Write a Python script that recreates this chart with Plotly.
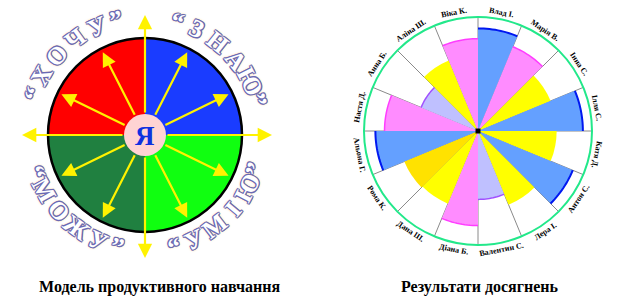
import numpy as np
import plotly.graph_objects as go

# ---------------- data ----------------
quadrant_words = ["ЗНАЮ", "УМІЮ", "МОЖУ", "ХОЧУ"]   # clockwise from 12 o'clock
quadrant_share = [1, 1, 1, 1]
center_word = "Я"

students = ["Влад І.", "Марія В.", "Інна С.", "Ілля С.", "Катя Д.", "Антон С.",
            "Лера І.", "Валентин С.", "Діана Б.", "Дана Ш.", "Рома К.", "Альона Г.",
            "Настя Д.", "Анна Б.", "Аліна Ш.", "Віка К."]
scores = [90, 80, 69, 92, 69, 90, 70, 60, 83, 69, 70, 90, 82, 54, 67, 81]
levels = ["В", "Д", "С", "В", "С", "В", "С", "П", "Д", "С", "С2", "В", "Д", "П", "С", "Д"]

caption_left = "Модель продуктивного навчання"
caption_right = "Результати досягнень"

# ---------------- styles ----------------
W, H = 633, 301
def px(x): return x / W
def py(y): return 1 - y / H

SERIF = "Liberation Serif, Times New Roman, DejaVu Serif, serif"
level_fill = {"В": "#64A0FF", "Д": "#FF8CFF", "С": "#FFFF00", "С2": "#FFE200", "П": "#BFC0FF"}
level_edge = {"В": "#0018F0", "Д": "#FF3CFF", "П": "#A050FF"}
quad_colors = ["#1A3CFF", "#10FF10", "#208040", "#FF0000"]

fig = go.Figure()

# ---- left diagram ----
CX, CY, R = 145, 135, 97
fig.add_trace(go.Pie(values=quadrant_share, labels=quadrant_words, sort=False,
                     direction="clockwise", rotation=0, textinfo="none",
                     hoverinfo="skip", showlegend=False,
                     marker=dict(colors=quad_colors, line=dict(width=0)),
                     domain=dict(x=[px(CX - R), px(CX + R)], y=[py(CY + R), py(CY - R)])))

shapes = [
    dict(type="circle", xref="paper", yref="paper", layer="above",
         x0=px(CX - R), x1=px(CX + R), y0=py(CY + R), y1=py(CY - R),
         line=dict(color="black", width=2.5)),
    dict(type="circle", xref="paper", yref="paper", layer="above",
         x0=px(CX - 21), x1=px(CX + 21), y0=py(CY + 21), y1=py(CY - 21),
         fillcolor="#FFD3D3", line=dict(width=0)),
]

annotations = []
yellow = "#FFF200"
def arrow(phi, L):
    a = np.radians(phi)
    hx, hy = CX + L * np.sin(a), CY - L * np.cos(a)
    annotations.append(dict(x=px(hx), y=py(hy), xref="paper", yref="paper",
                            ax=-L * np.sin(a), ay=L * np.cos(a), text="",
                            showarrow=True, arrowhead=2, arrowsize=1.3,
                            arrowwidth=2.2, arrowcolor=yellow, startstandoff=21))

for phi in [27, 64, 116, 153, 207, 244, 296, 333]:
    arrow(phi, 93)
for phi, L in [(0, 120), (90, 127), (180, 123), (270, 123)]:
    arrow(phi, L)

annotations.append(dict(x=px(CX), y=py(CY + 1), xref="paper", yref="paper", showarrow=False,
                        text="<b>" + center_word + "</b>", xanchor="center", yanchor="middle",
                        font=dict(family=SERIF, size=27, color="#1030E0")))

oc = "#6a6ab4"
art_font = dict(family=SERIF, size=25, color="white",
                shadow=(f"1px 1px 0 {oc}, -1px -1px 0 {oc}, 1px -1px 0 {oc}, -1px 1px 0 {oc}, "
                        f"0 1px 0 {oc}, 0 -1px 0 {oc}, 1px 0 0 {oc}, -1px 0 0 {oc}, "
                        "0 0 3px #F0A030, 0 0 2px #F0A030"))

def wordart(word, phi_s, phi_e, r, bottom):
    chars = list("“" + word + "”")
    w = [0.6 if c in "“”" else 1.0 for c in chars]
    cum = np.cumsum(w) - np.array(w) / 2
    t = (cum - cum[0]) / (cum[-1] - cum[0])
    for c, ti in zip(chars, t):
        phi = phi_s + (phi_e - phi_s) * ti
        a = np.radians(phi)
        x, y = CX + r * np.sin(a), CY - r * np.cos(a)
        ang = phi - 180 if bottom else phi
        annotations.append(dict(x=px(x), y=py(y), xref="paper", yref="paper",
                                showarrow=False, text="<b>" + c + "</b>",
                                textangle=ang, xanchor="center", yanchor="middle",
                                font=art_font))

wordart(quadrant_words[3], -70, -14, 119, False)
wordart(quadrant_words[0], 16, 73, 118, False)
wordart(quadrant_words[2], 251, 194, 115, True)
wordart(quadrant_words[1], 165, 107, 115, True)

# ---- right polar chart ----
PX, PY, PR = 478, 131, 114
n = len(students)
step = 360 / n
theta = [i * step + step / 2 for i in range(n)]

fig.add_trace(go.Barpolar(r=scores, theta=theta, width=[step] * n,
                          marker=dict(color=[level_fill[l] for l in levels], line=dict(width=0)),
                          hoverinfo="skip", showlegend=False))

for lv, col in level_edge.items():
    rr, tt = [], []
    for i, (s, l) in enumerate(zip(scores, levels)):
        if l == lv:
            th = np.linspace(i * step, (i + 1) * step, 15)
            rr += [s] * len(th) + [None]
            tt += list(th) + [None]
    fig.add_trace(go.Scatterpolar(r=rr, theta=tt, mode="lines",
                                  line=dict(color=col, width=2 if lv == "В" else 1.5),
                                  hoverinfo="skip", showlegend=False))

fig.add_trace(go.Scatterpolar(r=[0], theta=[0], mode="markers",
                              marker=dict(symbol="square", size=5, color="black"),
                              hoverinfo="skip", showlegend=False))

label_font = dict(family=SERIF, size=8, color="black")
for name, th in zip(students, theta):
    a = np.radians(th)
    x, y = PX + 121 * np.sin(a), PY - 121 * np.cos(a)
    if th <= 105:
        ang = th
    elif th < 270:
        ang = th - 180
    else:
        ang = th - 360
    annotations.append(dict(x=px(x), y=py(y), xref="paper", yref="paper", showarrow=False,
                            text="<b>" + name + "</b>", textangle=ang,
                            xanchor="center", yanchor="middle", font=label_font))

cap_font = dict(family=SERIF, size=16, color="black")
annotations.append(dict(x=px(160), y=py(287), xref="paper", yref="paper", showarrow=False,
                        text="<b>" + caption_left + "</b>", xanchor="center", yanchor="middle",
                        font=cap_font))
annotations.append(dict(x=px(480), y=py(287), xref="paper", yref="paper", showarrow=False,
                        text="<b>" + caption_right + "</b>", xanchor="center", yanchor="middle",
                        font=cap_font))

fig.update_layout(
    width=W, height=H, margin=dict(l=0, r=0, t=0, b=0),
    paper_bgcolor="white", plot_bgcolor="white", showlegend=False,
    polar=dict(
        domain=dict(x=[px(PX - PR), px(PX + PR)], y=[py(PY + PR), py(PY - PR)]),
        bgcolor="white", bargap=0,
        angularaxis=dict(rotation=90, direction="clockwise", tickmode="linear",
                         tick0=0, dtick=step, showticklabels=False, ticks="",
                         showgrid=True, gridcolor="#8a8a8a", gridwidth=1,
                         showline=True, linecolor="#22E88A", linewidth=2,
                         layer="above traces"),
        radialaxis=dict(range=[0, 100], showgrid=False, showline=False,
                        showticklabels=False, ticks=""),
    ),
    shapes=shapes, annotations=annotations,
)

fig.write_html("out.html")
